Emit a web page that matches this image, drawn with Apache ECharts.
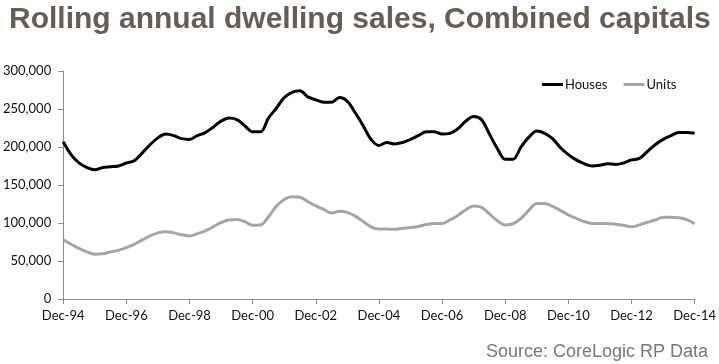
<!DOCTYPE html>
<html>
<head>
<meta charset="utf-8">
<script src="https://cdn.jsdelivr.net/npm/echarts@6/dist/echarts.min.js"></script>
<style>
html,body{margin:0;padding:0;background:#fff;}
#c{width:719px;height:364px;}
</style>
</head>
<body>
<div id="c"></div>
<script>
// Quarterly points, Dec-94 .. Dec-14
const firstYear = 1994;
const quarterMonths = ['Dec', 'Mar', 'Jun', 'Sep'];
const tickLabels = ['Dec-94','Dec-96','Dec-98','Dec-00','Dec-02','Dec-04','Dec-06','Dec-08','Dec-10','Dec-12','Dec-14'];

const houses = [
 207,190,179,173,170,173,174,175,179,182,192,203,212,217,215,211,
 210,215,219,226,234,238,236,228,220,220,238,251,265,272,274,266,
 262,259,259,265,260,245,228,210,202,206,204,206,210,215,220,220,
 217,218,224,234,240,236,217,198,184,184,200,213,221,218,211,199,
 190,183,178,175,176,178,177,179,183,185,194,203,210,215,219,219,
 218
].map(v => v * 1000);

const units = [
 78,72,66.5,62,59,59.5,62,64,67.5,72,77.5,83,87,88.5,87,84.5,
 83,86,89.5,95,100.5,104,104.5,101.7,97,97.5,108,122,131,134.5,134,128,
 122.5,118,113,115.5,114,109,102,95,92,92,91.7,93,94,95.5,98,99.5,
 99.5,104,110,117.5,122.5,120.6,112,103,97.5,99,106,117,125.5,125.5,122,116.5,
 110.5,106,102,99.5,99.5,99,98.5,97,95,97.5,101,104,107.5,107.5,107,104.5,
 99
].map(v => v * 1000);

const categories = [];
for (let i = 0; i < houses.length; i++) {
  const y = firstYear + Math.ceil(i / 4);
  const m = quarterMonths[i % 4];
  categories.push(m + '-' + String(y % 100).padStart(2, '0'));
}

const chart = echarts.init(document.getElementById('c'), null, {renderer: 'canvas'});
const axisFont = 'Lato, "Open Sans", sans-serif';
chart.setOption({
  animation: false,
  backgroundColor: '#ffffff',
  title: [{
    text: 'Rolling annual dwelling sales, Combined capitals',
    left: 4, top: 0,
    textStyle: {fontFamily: 'Liberation Sans, Arial, sans-serif', fontWeight: 'bold', fontSize: 30, color: '#675d57'}
  }, {
    text: 'Source: CoreLogic RP Data',
    right: 6, top: 338,
    textStyle: {fontFamily: 'Liberation Sans, Arial, sans-serif', fontWeight: 'normal', fontSize: 18, color: '#7d7672'}
  }],
  legend: {
    left: 537, top: 73,
    itemWidth: 21, itemHeight: 3, itemGap: 16,
    icon: 'rect',
    textStyle: {fontFamily: axisFont, fontSize: 13, color: '#111', padding: [0, 0, 0, -3]},
    data: ['Houses', 'Units']
  },
  grid: {left: 62, right: 23, top: 71, bottom: 65, containLabel: false},
  xAxis: {
    type: 'category',
    data: categories,
    boundaryGap: false,
    axisLine: {lineStyle: {color: '#8c8c8c', width: 1}},
    axisTick: {show: true, interval: 7, length: 5, lineStyle: {color: '#8c8c8c'}},
    axisLabel: {
      interval: 7, margin: 10,
      fontFamily: axisFont, fontSize: 13, color: '#111',
      formatter: v => tickLabels.includes(v) ? v : ''
    },
    splitLine: {show: false}
  },
  yAxis: {
    type: 'value',
    min: 0, max: 300000, interval: 50000,
    axisLine: {show: true, lineStyle: {color: '#8c8c8c', width: 1}},
    axisTick: {show: true, length: 5, lineStyle: {color: '#8c8c8c'}},
    axisLabel: {
      margin: 12,
      fontFamily: axisFont, fontSize: 13, color: '#111',
      formatter: v => v.toLocaleString('en-US')
    },
    splitLine: {show: false}
  },
  series: [{
    name: 'Houses', type: 'line', data: houses,
    showSymbol: false, smooth: 0.35,
    lineStyle: {color: '#000000', width: 3},
    itemStyle: {color: '#000000'}
  }, {
    name: 'Units', type: 'line', data: units,
    showSymbol: false, smooth: 0.35,
    lineStyle: {color: '#a5a5a5', width: 3},
    itemStyle: {color: '#a5a5a5'}
  }]
});
</script>
</body>
</html>
